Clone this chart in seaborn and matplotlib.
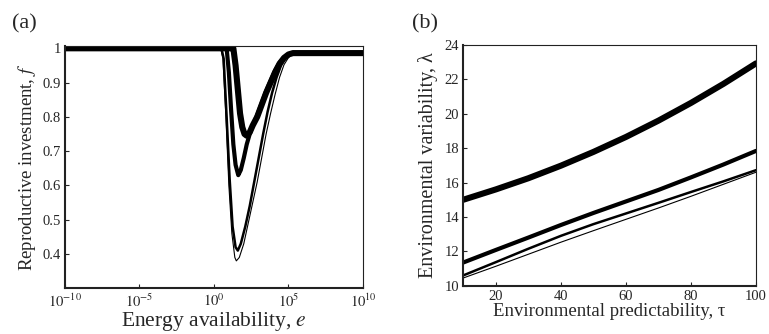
import numpy as np
import pandas as pd
import seaborn as sns
import matplotlib.pyplot as plt
from matplotlib.ticker import FixedLocator, FixedFormatter

# ---- panel (a): reproductive investment vs energy availability (log10 e) ----
a_names = ["thin", "medium", "thick", "thickest"]
a_logx = {
    "thin": [-10, 0.3, 0.45, 0.6, 0.8, 1.0, 1.2, 1.4, 1.5, 1.7, 2.0, 2.3, 2.6, 2.9,
             3.2, 3.5, 3.8, 4.1, 4.4, 4.7, 5.0, 5.3, 5.6, 10],
    "medium": [-10, 0.35, 0.5, 0.65, 0.85, 1.05, 1.25, 1.45, 1.6, 1.8, 2.1, 2.4, 2.7,
               3.0, 3.3, 3.6, 3.9, 4.2, 4.5, 4.8, 5.1, 5.4, 10],
    "thick": [-10, 0.7, 0.85, 1.0, 1.15, 1.3, 1.45, 1.63, 1.8, 2.0, 2.2, 2.4, 2.6, 2.9,
              3.2, 3.5, 3.8, 4.1, 4.4, 4.7, 5.0, 5.3, 10],
    "thickest": [-10, 1.15, 1.3, 1.45, 1.6, 1.75, 1.9, 2.05, 2.2, 2.4, 2.6, 2.9, 3.2,
                 3.5, 3.8, 4.1, 4.4, 4.7, 5.0, 5.3, 10],
}
a_f = {
    "thin": [1.0, 1.0, 1.0, 0.97, 0.80, 0.60, 0.46, 0.39, 0.38, 0.39, 0.43, 0.49, 0.55,
             0.61, 0.68, 0.75, 0.81, 0.865, 0.915, 0.952, 0.973, 0.983, 0.986, 0.986],
    "medium": [1.0, 1.0, 1.0, 0.97, 0.80, 0.62, 0.48, 0.42, 0.41, 0.43, 0.48, 0.54,
               0.61, 0.68, 0.75, 0.815, 0.87, 0.915, 0.95, 0.972, 0.982, 0.986, 0.986],
    "thick": [1.0, 1.0, 1.0, 0.93, 0.82, 0.72, 0.66, 0.63, 0.645, 0.68, 0.72, 0.75,
              0.775, 0.805, 0.84, 0.875, 0.905, 0.935, 0.958, 0.973, 0.982, 0.986, 0.986],
    "thickest": [1.0, 1.0, 1.0, 0.95, 0.88, 0.81, 0.77, 0.75, 0.745, 0.755, 0.775,
                 0.80, 0.835, 0.87, 0.90, 0.93, 0.955, 0.972, 0.982, 0.986, 0.986],
}

# ---- panel (b): environmental variability vs predictability ----
tau = [10, 20, 30, 40, 50, 60, 70, 80, 90, 100]
b_lam = {
    "thin": [10.45, 11.13, 11.83, 12.53, 13.2, 13.86, 14.52, 15.2, 15.9, 16.6],
    "medium": [10.6, 11.37, 12.15, 12.9, 13.58, 14.2, 14.82, 15.45, 16.07, 16.72],
    "thick": [11.35, 12.08, 12.8, 13.53, 14.23, 14.9, 15.57, 16.3, 17.05, 17.84],
    "thickest": [15.0, 15.6, 16.25, 16.98, 17.78, 18.65, 19.6, 20.63, 21.74, 22.93],
}

widths = {"thin": 0.8, "medium": 1.8, "thick": 3.0, "thickest": 4.4}

rows_a = []
for name in a_names:
    for lx, f in zip(a_logx[name], a_f[name]):
        rows_a.append({"e": 10.0 ** lx, "f": f, "curve": name})
df_a = pd.DataFrame(rows_a)

rows_b = []
for name in a_names:
    for t, lam in zip(tau, b_lam[name]):
        rows_b.append({"tau": t, "lam": lam, "curve": name})
df_b = pd.DataFrame(rows_b)

sns.set_style("ticks")
plt.rcParams["font.family"] = ["Liberation Serif", "DejaVu Serif"]
plt.rcParams["mathtext.fontset"] = "stix"
plt.rcParams["xtick.direction"] = "in"
plt.rcParams["ytick.direction"] = "in"

fig = plt.figure(figsize=(7.69, 3.34), dpi=100)
ax1 = fig.add_axes([0.0845, 0.1368, 0.3875, 0.7263])
ax2 = fig.add_axes([0.6025, 0.1446, 0.3806, 0.7207])

sns.lineplot(data=df_a, x="e", y="f", hue="curve", size="curve",
             palette={n: "black" for n in a_names}, sizes=widths,
             legend=False, sort=False, estimator=None, ax=ax1)
ax1.set_xscale("log")
ax1.set_xlim(1e-10, 1e10)
ax1.set_ylim(0.3, 1.0075)
ax1.xaxis.set_major_locator(FixedLocator([1e-10, 1e-5, 1e0, 1e5, 1e10]))
ax1.xaxis.set_major_formatter(FixedFormatter(
    [r"$10^{-10}$", r"$10^{-5}$", r"$10^{0}$", r"$10^{5}$", r"$10^{10}$"]))
ax1.xaxis.set_minor_locator(FixedLocator([]))
ax1.set_yticks([0.4, 0.5, 0.6, 0.7, 0.8, 0.9, 1.0])
ax1.set_yticklabels(["0.4", "0.5", "0.6", "0.7", "0.8", "0.9", "1"])
ax1.set_xlabel("Energy availability, $e$", fontsize=15.5, labelpad=0)
ax1.set_ylabel("Reproductive investment, $f$", fontsize=13.5, labelpad=3)

sns.lineplot(data=df_b, x="tau", y="lam", hue="curve", size="curve",
             palette={n: "black" for n in a_names}, sizes=widths,
             legend=False, sort=False, estimator=None, ax=ax2)
ax2.set_xlim(10, 100)
ax2.set_ylim(10, 24)
ax2.set_xticks([20, 40, 60, 80, 100])
ax2.set_yticks([10, 12, 14, 16, 18, 20, 22, 24])
ax2.set_xlabel("Environmental predictability, τ", fontsize=13.5, labelpad=0)
ax2.set_ylabel("Environmental variability, λ", fontsize=14.5, labelpad=5)

for ax in (ax1, ax2):
    ax.tick_params(axis="both", labelsize=10.5, length=3, width=0.8, pad=3,
                   top=False, right=False)
    ax.spines["left"].set_linewidth(1.5)
    ax.spines["bottom"].set_linewidth(1.5)
    ax.spines["top"].set_linewidth(0.8)
    ax.spines["right"].set_linewidth(0.8)
    for s in ax.spines.values():
        s.set_color("#222222")

fig.text(0.016, 0.915, "(a)", fontsize=16)
fig.text(0.536, 0.915, "(b)", fontsize=16)

fig.savefig("out.png", dpi=100)
